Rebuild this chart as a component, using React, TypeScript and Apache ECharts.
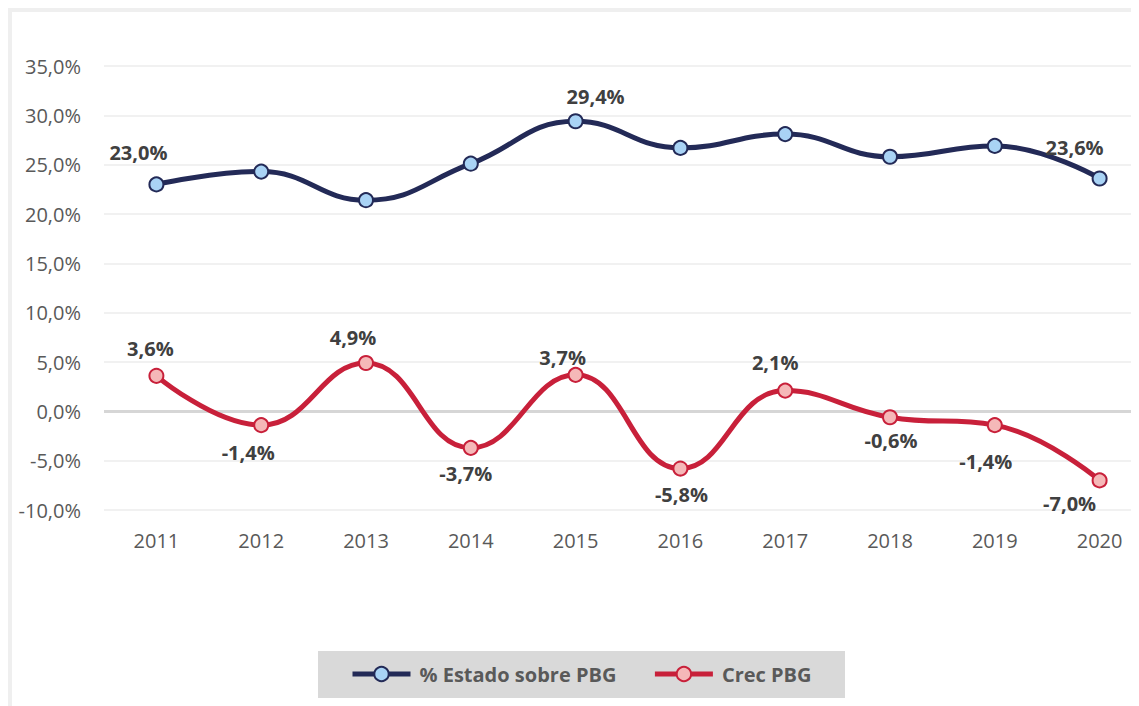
import React, { useEffect, useRef } from "react";
import * as echarts from "echarts";

const years = ["2011", "2012", "2013", "2014", "2015", "2016", "2017", "2018", "2019", "2020"];
const estadoValues = [23.0, 24.3, 21.4, 25.1, 29.4, 26.7, 28.1, 25.8, 26.9, 23.6];
const crecValues = [3.6, -1.4, 4.9, -3.7, 3.7, -5.8, 2.1, -0.6, -1.4, -7.0];
const estadoLabelShown = [true, false, false, false, true, false, false, false, false, true];
const yTicks = { min: -10, max: 35, interval: 5 };

// label placement (layout only)
const estadoLabelOffsets: [number, number][] = [
  [-18, -32], [0, -28], [0, -28], [0, -28], [20, -25], [0, -28], [0, -28], [0, -28], [0, -28], [-25, -31],
];
const crecLabelOffsets: [number, number][] = [
  [-6, -27], [-13, 27], [-13, -25], [-5, 26], [-13, -17], [1, 26], [-10, -28], [1, 23], [-9, 36], [-30, 23],
];

const FONT = "'Open Sans', 'Noto Sans', sans-serif";
const fmt = (v: number) => v.toFixed(1).replace(".", ",") + "%";

export default function App() {
  const ref = useRef<HTMLDivElement>(null);
  useEffect(() => {
    if (!ref.current) return;
    const chart = echarts.init(ref.current, undefined, { renderer: "svg" });
    const labelStyle = {
      fontFamily: FONT,
      fontSize: 20,
      fontWeight: "bold" as const,
      color: "#404040",
    };
    chart.setOption({
      animation: false,
      grid: { left: 92, top: 54, bottom: 196, right: 20, containLabel: false },
      xAxis: {
        type: "category",
        data: years,
        boundaryGap: true,
        axisLine: { show: false },
        axisTick: { show: false },
        axisLabel: { color: "#595959", fontFamily: FONT, fontSize: 20, margin: 20 },
        splitLine: { show: false },
      },
      yAxis: {
        type: "value",
        min: yTicks.min,
        max: yTicks.max,
        interval: yTicks.interval,
        axisLine: { show: false },
        axisTick: { show: false },
        axisLabel: {
          color: "#595959",
          fontFamily: FONT,
          fontSize: 20,
          margin: 23,
          formatter: (v: number) => fmt(v),
        },
        splitLine: { lineStyle: { color: "#ececec", width: 1.5 } },
      },
      legend: {
        left: 338,
        top: 652,
        padding: 0,
        itemWidth: 58,
        itemHeight: 18,
        itemGap: 36,
        lineStyle: { width: 5 },
        itemStyle: { borderWidth: 2 },
        textStyle: {
          fontFamily: FONT,
          fontSize: 20,
          fontWeight: "bold",
          color: "#595959",
          lineHeight: 20,
          padding: [0, 0, 0, 4],
        },
        data: ["% Estado sobre PBG", "Crec PBG"],
      },
      graphic: [
        {
          type: "rect",
          z: -10,
          shape: { x: 306, y: 639, width: 527, height: 47 },
          style: { fill: "#d9d9d9" },
        },
      ],
      series: [
        {
          name: "% Estado sobre PBG",
          type: "line",
          smooth: 0.45,
          symbol: "circle",
          symbolSize: 14,
          lineStyle: { color: "#232a57", width: 5 },
          itemStyle: { color: "#a9d3f5", borderColor: "#232a57", borderWidth: 2 },
          z: 3,
          data: estadoValues.map((v, i) => ({
            value: v,
            label: {
              show: estadoLabelShown[i],
              position: "inside",
              offset: estadoLabelOffsets[i],
              formatter: () => fmt(v),
              ...labelStyle,
            },
          })),
        },
        {
          name: "Crec PBG",
          type: "line",
          smooth: 0.45,
          symbol: "circle",
          symbolSize: 14,
          lineStyle: { color: "#c8203a", width: 5 },
          itemStyle: { color: "#f5b8b8", borderColor: "#c8203a", borderWidth: 2 },
          z: 3,
          markLine: {
            silent: true,
            symbol: "none",
            label: { show: false },
            lineStyle: { color: "#d6d6d6", width: 3, type: "solid" },
            data: [{ yAxis: 0 }],
            z: 1,
          },
          data: crecValues.map((v, i) => ({
            value: v,
            label: {
              show: true,
              position: "inside",
              offset: crecLabelOffsets[i],
              formatter: () => fmt(v),
              ...labelStyle,
            },
          })),
        },
      ],
    });
    return () => chart.dispose();
  }, []);

  return (
    <div
      style={{
        width: 1131,
        height: 698,
        boxSizing: "border-box",
        borderLeft: "4px solid #efefef",
        borderTop: "4px solid #efefef",
        overflow: "hidden",
      }}
    >
      <div ref={ref} style={{ width: 1160, height: 694 }} />
    </div>
  );
}
